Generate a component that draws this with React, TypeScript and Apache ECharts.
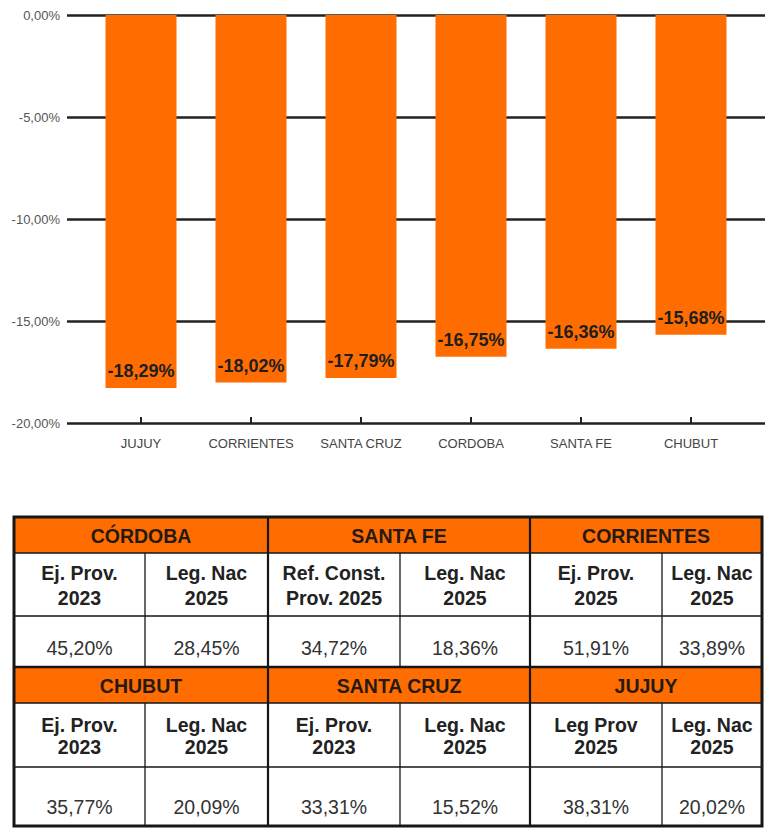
import React, { useEffect, useRef } from "react";
import * as echarts from "echarts";

const categories = ["JUJUY", "CORRIENTES", "SANTA CRUZ", "CORDOBA", "SANTA FE", "CHUBUT"];
const variation = [-18.29, -18.02, -17.79, -16.75, -16.36, -15.68];
const yTicks = { min: -20, max: 0, interval: 5 };

const tableProvinces = [
  ["CÓRDOBA", "SANTA FE", "CORRIENTES"],
  ["CHUBUT", "SANTA CRUZ", "JUJUY"],
];
const tableSubheaders = [
  ["Ej. Prov.\n2023", "Leg. Nac\n2025", "Ref. Const.\nProv. 2025", "Leg. Nac\n2025", "Ej. Prov.\n2025", "Leg. Nac\n2025"],
  ["Ej. Prov.\n2023", "Leg. Nac\n2025", "Ej. Prov.\n2023", "Leg. Nac\n2025", "Leg Prov\n2025", "Leg. Nac\n2025"],
];
const tableValues = [
  ["45,20%", "28,45%", "34,72%", "18,36%", "51,91%", "33,89%"],
  ["35,77%", "20,09%", "33,31%", "15,52%", "38,31%", "20,02%"],
];

const ORANGE = "#FF6D01";
const FONT = "'Liberation Sans', Arial, Helvetica, sans-serif";

function pct(v: number) {
  const s = Math.abs(v) < 1e-9 ? "0.00" : v.toFixed(2);
  return s.replace(".", ",") + "%";
}

function buildTable(): any[] {
  const colX = [14, 145, 268, 400, 530, 662, 762];
  const blocks = [
    { rows: [517, 553, 616, 667], lh: 25, valY: 648 },
    { rows: [667, 703, 767, 826], lh: 22, valY: 807 },
  ];
  const els: any[] = [];
  const line = (x1: number, y1: number, x2: number, y2: number, w: number) =>
    els.push({ type: "line", shape: { x1, y1, x2, y2 }, style: { stroke: "#161616", lineWidth: w }, z: 10 });

  blocks.forEach((b, bi) => {
    const [r0, r1, r2, r3] = b.rows;
    els.push({ type: "rect", shape: { x: colX[0], y: r0, width: colX[6] - colX[0], height: r1 - r0 }, style: { fill: ORANGE }, z: 1 });
    els.push({ type: "rect", shape: { x: colX[0], y: r1, width: colX[6] - colX[0], height: r3 - r1 }, style: { fill: "#ffffff" }, z: 1 });
    for (let g = 0; g < 3; g++) {
      const xa = colX[g * 2], xb = colX[g * 2 + 2];
      els.push({
        type: "text", x: (xa + xb) / 2, y: (r0 + r1) / 2 + 1, z: 5,
        style: { text: tableProvinces[bi][g], fill: "#241a12", font: `bold 19.5px ${FONT}`, align: "center", verticalAlign: "middle" },
      });
    }
    for (let c = 0; c < 6; c++) {
      const cx = (colX[c] + colX[c + 1]) / 2;
      els.push({
        type: "text", x: cx, y: (r1 + r2) / 2 + 1, z: 5,
        style: { text: tableSubheaders[bi][c], fill: "#222", font: `bold 19.5px ${FONT}`, lineHeight: b.lh, align: "center", verticalAlign: "middle" },
      });
      els.push({
        type: "text", x: cx, y: b.valY, z: 5,
        style: { text: tableValues[bi][c], fill: "#333", font: `19.5px ${FONT}`, align: "center", verticalAlign: "middle" },
      });
    }
    line(colX[0], r1, colX[6], r1, 1.5);
    line(colX[0], r2, colX[6], r2, 1.3);
    [1, 3, 5].forEach((i) => line(colX[i], r1, colX[i], r3, 1.3));
    [2, 4].forEach((i) => line(colX[i], r0, colX[i], r3, 2.2));
  });
  line(colX[0], 667, colX[6], 667, 2.5);
  els.push({ type: "rect", shape: { x: colX[0], y: 517, width: colX[6] - colX[0], height: 826 - 517 }, style: { fill: "none", stroke: "#161616", lineWidth: 3 }, z: 11 });
  return els;
}

export default function App() {
  const ref = useRef<HTMLDivElement>(null);
  useEffect(() => {
    document.body.style.margin = "0";
    const chart = echarts.init(ref.current!, null, { renderer: "svg" });
    chart.setOption({
      animation: false,
      backgroundColor: "#ffffff",
      textStyle: { fontFamily: FONT },
      grid: [
        { left: 67, right: 15, top: 15, bottom: 409 },
        { left: 86, right: 34, top: 15, bottom: 409 },
      ],
      xAxis: [
        { type: "value", gridIndex: 0, show: false, min: 0, max: 1 },
        {
          type: "category", gridIndex: 1, data: categories, position: "bottom",
          axisLine: { show: false },
          axisTick: { show: true, interval: 0, alignWithLabel: true, length: 6, lineStyle: { color: "#222", width: 2 } },
          axisLabel: { color: "#444", fontSize: 13, margin: 14, interval: 0, fontFamily: FONT },
        },
        {
          type: "category", gridIndex: 1, data: categories, position: "bottom",
          axisLine: { show: false },
          axisTick: { show: true, interval: 0, inside: true, alignWithLabel: true, length: 6, lineStyle: { color: "#222", width: 2 } },
          axisLabel: { show: false, interval: 0 },
        },
      ],
      yAxis: [
        {
          type: "value", gridIndex: 0, min: yTicks.min, max: yTicks.max, interval: yTicks.interval,
          axisLine: { show: false }, axisTick: { show: false },
          axisLabel: { color: "#555", fontSize: 13, margin: 7, formatter: (v: number) => pct(v), fontFamily: FONT },
          splitLine: { show: true, lineStyle: { color: "#222", width: 2.6 } },
        },
        { type: "value", gridIndex: 1, min: yTicks.min, max: yTicks.max, interval: yTicks.interval, show: false },
      ],
      series: [
        {
          type: "bar", xAxisIndex: 1, yAxisIndex: 1, data: variation, barWidth: 71,
          itemStyle: { color: ORANGE },
          label: {
            show: true, position: "insideBottom", distance: 8,
            formatter: (p: any) => pct(p.value), color: "#1e1e1e",
            fontWeight: "bold", fontSize: 18, fontFamily: FONT,
          },
        },
      ],
      graphic: buildTable(),
    });
    return () => chart.dispose();
  }, []);
  return <div ref={ref} style={{ width: 780, height: 832 }} />;
}
